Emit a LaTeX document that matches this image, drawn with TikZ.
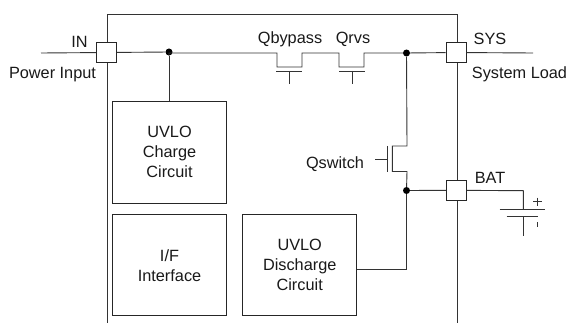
\documentclass[tikz,border=0pt]{standalone}
\usepackage{fontspec}
\setmainfont{Liberation Sans}
\tikzset{
 x=1pt,y=-1pt,
 wire/.style={draw=black!80,line width=0.9pt},
 blockbox/.style={draw=black!85,line width=0.9pt,minimum width=0,align=center,inner sep=0pt,font=\fontsize{16.3pt}{20pt}\selectfont},
 pin/.style={draw=black!85,fill=white,line width=0.9pt,minimum size=20pt,inner sep=0pt},
 lbl/.style={inner sep=0pt,font=\fontsize{16.3pt}{20pt}\selectfont,text=black!90},
 dot/.style={circle,fill=black,inner sep=0pt,minimum size=7pt}
}
\begin{document}
\begin{tikzpicture}
\useasboundingbox (0,0) rectangle (569,323);
% chip outline
\coordinate (tl) at (107,14);
\coordinate (tr) at (457,14);
\coordinate (bl) at (107,323);
\coordinate (br) at (457,323);
\draw[wire] (bl) -- (tl) -- (tr) -- (br);
% pins
\node[pin] (in) at (106.5,52.5) {};
\node[pin] (sys) at (456,52.5) {};
\node[pin] (bat) at (456.2,190.3) {};
\coordinate (infree) at (41,53);
\coordinate (sysfree) at (533,53);
% blocks
\node[blockbox,minimum width=114.5pt,minimum height=101.6pt] (charge) at (169.5,152.5) {};
\node[blockbox,minimum width=114.5pt,minimum height=101.6pt] (iface) at (169.5,265) {};
\node[blockbox,minimum width=114pt,minimum height=101.6pt] (disch) at (299.7,265) {};
\node[lbl,align=center] (chargetxt) at (169.5,151.5) {UVLO\\Charge\\Circuit};
\node[lbl,align=center] (iftxt) at (169.5,266) {I/F\\Interface};
\node[lbl,align=center] (distxt) at (299.7,265) {UVLO\\Discharge\\Circuit};
% dots
\node[dot] (d1) at (169,52) {};
\node[dot] (d2) at (406.5,53) {};
\node[dot] (d3) at (406.5,190.5) {};
% transistors
\coordinate (b1a) at (277,53);
\coordinate (b1b) at (277,67);
\coordinate (b1c) at (302,67);
\coordinate (b1d) at (302,53);
\coordinate (b2a) at (339,53);
\coordinate (b2b) at (339,67);
\coordinate (b2c) at (364,67);
\coordinate (b2d) at (364,53);
\draw[wire] (infree) -- (in);
\draw[wire] (in) -- (d1) -- (169,53) -- (b1a) -- (b1b) -- (b1c) -- (b1d) -- (b2a) -- (b2b) -- (b2c) -- (b2d) -- (d2) -- (sys);
\draw[wire] (sys) -- (sysfree);
\draw[wire] (d1) -- (charge.north -| d1);
% gates
\coordinate (g1l) at (276,71); \coordinate (g1r) at (302,71);
\coordinate (g1m) at (289,71); \coordinate (g1e) at (289,84);
\coordinate (g2l) at (339,71); \coordinate (g2r) at (365,71);
\coordinate (g2m) at (352,71); \coordinate (g2e) at (352,84);
\draw[wire] (g1l) -- (g1r) (g1m) -- (g1e);
\draw[wire] (g2l) -- (g2r) (g2m) -- (g2e);
% Qswitch
\coordinate (sd) at (407,146);
\coordinate (sd2) at (392.3,146);
\coordinate (ss) at (392.3,171.5);
\coordinate (ss2) at (407,171.5);
\coordinate (sg1) at (387.7,146);
\coordinate (sg2) at (387.7,172);
\coordinate (sgm) at (387.7,159);
\coordinate (sge) at (375,159);
\draw[wire] (d2) -- (sd) -- (sd2) -- (ss) -- (ss2) -- (d3);
\draw[wire] (sg1) -- (sg2) (sgm) -- (sge);
\draw[wire] (d3) -- (bat);
\draw[wire] (d3) -- (406.5,269) -- (disch.east |- 0,269);
% battery
\coordinate (bc) at (523.3,190.7);
\coordinate (bt) at (523.3,209);
\coordinate (bb) at (523.3,216);
\coordinate (be) at (523.3,235.7);
\draw[wire] (bat) -- (bc) -- (bt);
\draw[wire] (499.5,209) -- (545,209);
\draw[wire] (506.7,216) -- (537.7,216);
\draw[wire] (bb) -- (be);
\draw[wire] (533,201.7) -- (541.5,201.7) (537.3,197.5) -- (537.3,206);
\draw[wire] (537.3,222) -- (537.3,227);
% labels
\node[lbl] (t1) at (79.5,41.5) {IN};
\node[lbl] (t2) at (52.5,74.5) {Power Input};
\node[lbl] (t3) at (290,39) {Qbypass};
\node[lbl] (t4) at (353,39) {Qrvs};
\node[lbl] (t5) at (490,38.5) {SYS};
\node[lbl] (t6) at (519.5,74.5) {System Load};
\node[lbl] (t7) at (335,164) {Qswitch};
\node[lbl] (t8) at (490,178) {BAT};
\end{tikzpicture}
\end{document}
